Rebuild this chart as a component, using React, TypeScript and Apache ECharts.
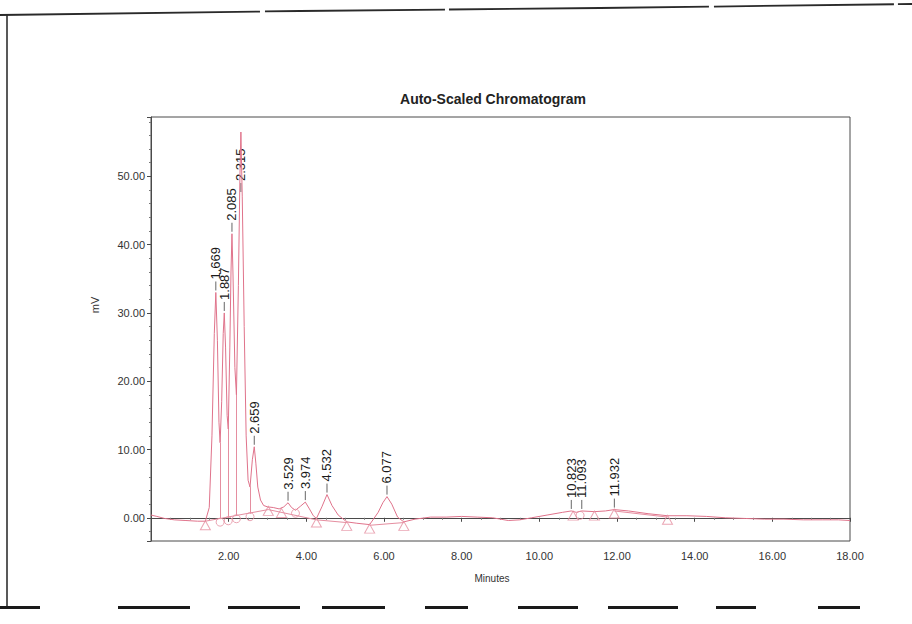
import React, { useEffect, useRef } from "react";
import * as echarts from "echarts";

// Detector trace: [retention time (min), signal (mV)]
const tracePoints: [number, number][] = [
  [0.0, 0.4], [0.15, 0.2], [0.35, -0.1], [0.6, -0.3], [0.9, -0.4], [1.2, -0.5],
  [1.4, -0.5], [1.5, 1.5], [1.57, 12], [1.63, 27], [1.669, 33.0], [1.71, 26],
  [1.75, 14], [1.78, 11], [1.82, 17], [1.86, 27], [1.887, 30.0], [1.92, 25],
  [1.96, 15], [1.99, 13], [2.03, 25], [2.06, 36], [2.085, 41.6], [2.11, 36],
  [2.16, 22], [2.2, 18], [2.25, 34], [2.29, 50], [2.315, 56.5], [2.35, 47],
  [2.4, 28], [2.45, 12], [2.5, 5.5], [2.55, 4.5], [2.61, 8.5], [2.659, 10.4],
  [2.7, 8.0], [2.75, 4.5], [2.82, 2.6], [2.9, 1.8], [3.0, 1.6], [3.15, 1.5],
  [3.3, 1.3], [3.42, 1.6], [3.529, 2.2], [3.62, 1.5], [3.72, 1.1], [3.85, 1.7],
  [3.974, 2.3], [4.08, 1.3], [4.18, 0.3], [4.26, -0.1], [4.4, 1.6], [4.532, 3.4],
  [4.66, 1.8], [4.82, 0.4], [5.04, -0.6], [5.3, -0.8], [5.63, -1.0], [5.85, 0.8],
  [5.97, 2.2], [6.077, 3.1], [6.2, 2.0], [6.35, 0.1], [6.51, -0.6], [6.8, -0.2],
  [7.2, 0.1], [7.6, 0.1], [8.0, 0.2], [8.4, 0.1], [8.8, 0.0], [9.2, -0.4],
  [9.5, -0.3], [9.8, 0.0], [10.2, 0.4], [10.6, 0.8], [10.823, 1.0], [10.95, 0.8],
  [11.093, 1.0], [11.42, 0.9], [11.7, 1.0], [11.932, 1.2], [12.3, 1.0], [12.8, 0.6],
  [13.3, 0.3], [13.8, 0.3], [14.3, 0.2], [14.8, 0.0], [15.3, -0.1], [15.8, -0.2],
  [16.3, -0.2], [16.8, -0.3], [17.3, -0.3], [17.7, -0.3], [18.0, -0.4],
];

// Integrated peaks: apex retention time and apex height
const peakTimes = [1.669, 1.887, 2.085, 2.315, 2.659, 3.529, 3.974, 4.532, 6.077, 10.823, 11.093, 11.932];
const peakHeights = [33.0, 30.0, 41.6, 56.5, 10.4, 2.2, 2.3, 3.4, 3.1, 1.0, 1.0, 1.2];

// Peak start / end points (triangles) and drop-line points (circles)
const baselineMarks: [number, number][] = [
  [1.4, -0.5], [3.02, 1.6], [3.36, 1.3], [4.26, -0.1], [5.04, -0.6], [5.63, -1.0],
  [6.51, -0.6], [10.87, 0.9], [11.42, 0.9], [11.93, 1.2], [13.3, 0.3],
];
const dropMarks: [number, number][] = [
  [1.78, -0.2], [1.99, 0.0], [2.2, 0.3], [2.55, 0.6], [3.72, 1.1], [11.05, 0.8],
];

// Valley drop lines: time, valley height, baseline height
const dropTimes = [1.78, 1.99, 2.2, 2.55];
const dropTops = [11, 13, 18, 4.5];
const dropBottoms = [-0.2, 0.0, 0.3, 0.6];

// Integration baselines drawn beneath peaks
const baselineSegments: [[number, number], [number, number]][] = [
  [[1.4, -0.5], [3.02, 1.2]],
  [[3.02, 1.2], [4.26, -0.3]],
  [[4.26, -0.3], [5.04, -0.7]],
  [[5.63, -1.1], [6.51, -0.7]],
  [[11.93, 1.0], [13.3, 0.1]],
];

const X_MIN = 0;
const X_MAX = 18;
const X_STEP = 2;
const Y_MIN = -3.4;
const Y_MAX = 58.7;

const TRACE = "#e0738b";
const MARK = "#e58ea0";

export default function App() {
  const ref = useRef<HTMLDivElement>(null);

  useEffect(() => {
    if (!ref.current) return;
    const chart = echarts.init(ref.current, undefined, { renderer: "svg" });

    const markLineData: any[] = [];
    dropTimes.forEach((t, i) => {
      markLineData.push([{ coord: [t, dropTops[i]] }, { coord: [t, dropBottoms[i]] }]);
    });
    baselineSegments.forEach(([a, b]) => {
      markLineData.push([{ coord: a }, { coord: b }]);
    });

    const font = "Arial, 'Liberation Sans', sans-serif";

    chart.setOption({
      animation: false,
      backgroundColor: "#ffffff",
      grid: {
        left: 151,
        right: 62,
        top: 117,
        bottom: 83,
        show: true,
        borderColor: "#4a4a4a",
        borderWidth: 1,
        backgroundColor: "transparent",
      },
      xAxis: {
        type: "value",
        min: X_MIN,
        max: X_MAX,
        interval: X_STEP,
        axisLine: { show: true, lineStyle: { color: "#4a4a4a", width: 1 } },
        axisTick: { show: true, inside: false, length: 4, lineStyle: { color: "#4a4a4a" } },
        minorTick: { show: true, splitNumber: 4, length: 2, lineStyle: { color: "#777" } },
        splitLine: { show: false },
        axisLabel: {
          showMinLabel: false,
          margin: 9,
          color: "#333",
          fontSize: 11,
          fontFamily: font,
          formatter: (v: number) => v.toFixed(2),
        },
      },
      yAxis: {
        type: "value",
        min: Y_MIN,
        max: Y_MAX,
        splitNumber: 5,
        axisLine: { show: true, lineStyle: { color: "#4a4a4a", width: 1 } },
        axisTick: { show: true, inside: false, length: 4, lineStyle: { color: "#4a4a4a" } },
        minorTick: { show: true, splitNumber: 5, length: 2, lineStyle: { color: "#777" } },
        splitLine: { show: false },
        axisLabel: {
          showMinLabel: false,
          showMaxLabel: false,
          margin: 6,
          color: "#333",
          fontSize: 11,
          fontFamily: font,
          formatter: (v: number) => v.toFixed(2),
        },
      },
      series: [
        {
          type: "custom",
          name: "peak labels",
          z: 1,
          silent: true,
          data: peakTimes.map((t, i) => [t, peakHeights[i]]),
          renderItem: (params: any, api: any) => {
            const t = api.value(0) as number;
            const h = api.value(1) as number;
            const [px, py] = api.coord([t, h]);
            const top = params.coordSys.y;
            const textBottom = Math.max(py - 13, top + 64);
            return {
              type: "group",
              children: [
                {
                  type: "line",
                  shape: { x1: px, y1: textBottom + 2, x2: px, y2: textBottom + 11 },
                  style: { stroke: "#666", lineWidth: 1 },
                },
                {
                  type: "text",
                  x: px,
                  y: textBottom,
                  rotation: Math.PI / 2,
                  style: {
                    text: t.toFixed(3),
                    fill: "#1a1a1a",
                    font: `13px ${font}`,
                    align: "left",
                    verticalAlign: "middle",
                  },
                },
              ],
            };
          },
        },
        {
          type: "line",
          name: "trace",
          z: 3,
          data: tracePoints,
          showSymbol: false,
          symbol: "none",
          lineStyle: { color: TRACE, width: 1 },
          markLine: {
            silent: true,
            symbol: ["none", "none"],
            label: { show: false },
            lineStyle: { color: MARK, width: 1, type: "solid" },
            data: markLineData,
          },
        },
        {
          type: "scatter",
          name: "baseline marks",
          z: 4,
          data: baselineMarks,
          symbol: "triangle",
          symbolSize: [10, 9],
          symbolOffset: [0, 4],
          itemStyle: { color: "rgba(255,255,255,0)", borderColor: MARK, borderWidth: 1 },
        },
        {
          type: "scatter",
          name: "drop marks",
          z: 4,
          data: dropMarks,
          symbol: "circle",
          symbolSize: 8,
          symbolOffset: [0, 3],
          itemStyle: { color: "rgba(255,255,255,0)", borderColor: MARK, borderWidth: 1 },
        },
      ],
      graphic: [
        {
          type: "text",
          x: 493,
          y: 99,
          style: {
            text: "Auto-Scaled Chromatogram",
            font: `bold 14px ${font}`,
            fill: "#222",
            align: "center",
            verticalAlign: "middle",
          },
        },
        {
          type: "text",
          x: 95,
          y: 305,
          rotation: Math.PI / 2,
          style: {
            text: "mV",
            font: `11px ${font}`,
            fill: "#333",
            align: "center",
            verticalAlign: "middle",
          },
        },
        {
          type: "text",
          x: 492,
          y: 578,
          style: {
            text: "Minutes",
            font: `10px ${font}`,
            fill: "#333",
            align: "center",
            verticalAlign: "middle",
          },
        },
        // page frame
        {
          type: "line",
          shape: { x1: 7, y1: 14, x2: 7, y2: 607 },
          style: { stroke: "#222", lineWidth: 1.5 },
        },
        {
          type: "polyline",
          shape: { points: [[0, 15], [300, 11], [600, 8], [912, 4]] },
          style: { stroke: "#2a2a2a", lineWidth: 1.8, lineDash: [260, 5, 180, 4] },
        },
        ...[
          [0, 40], [118, 190], [228, 300], [322, 385], [425, 468],
          [518, 578], [608, 678], [716, 756], [818, 860],
        ].map(([a, b]) => ({
          type: "rect",
          shape: { x: a, y: 606, width: b - a, height: 3 },
          style: { fill: "#1a1a1a" },
        })),
      ],
    });

    return () => chart.dispose();
  }, []);

  return (
    <div
      ref={ref}
      style={{ position: "absolute", left: 0, top: 0, width: 912, height: 624, background: "#fff" }}
    />
  );
}
